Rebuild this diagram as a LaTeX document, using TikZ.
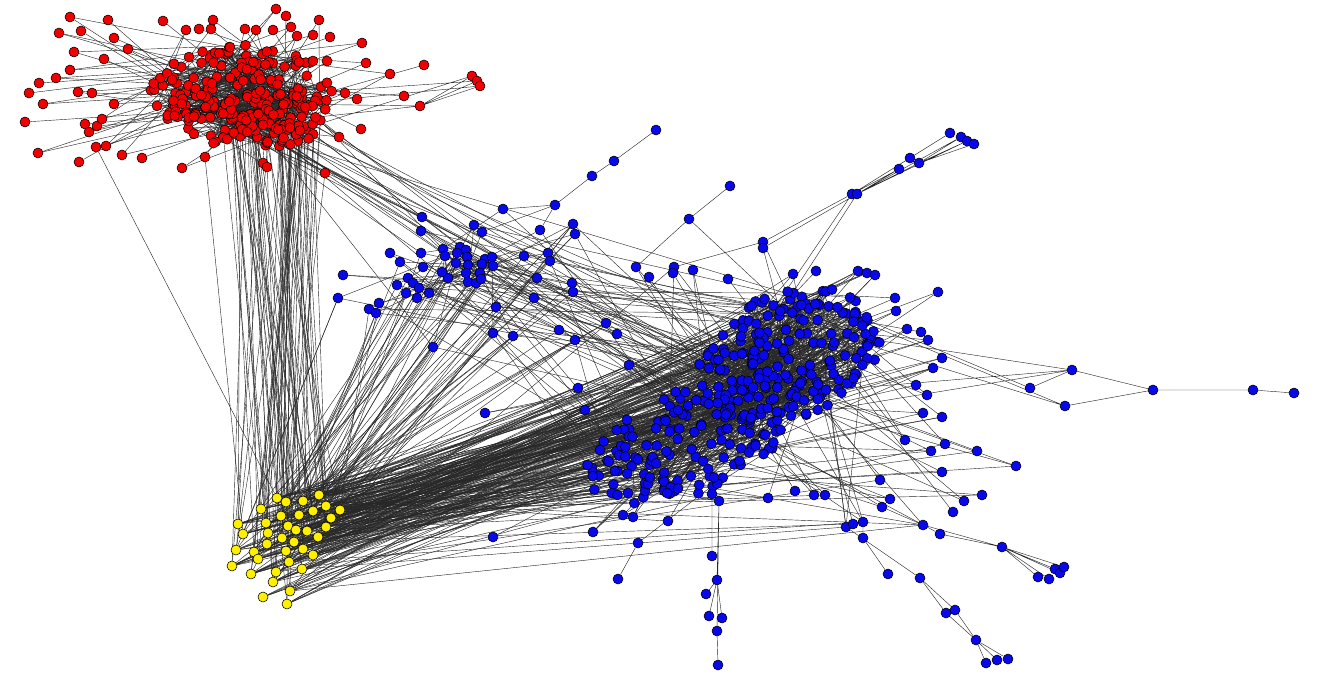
\documentclass[tikz,border=0pt]{standalone}
\pgfdeclarelayer{edges}
\pgfsetlayers{edges,main}
\definecolor{nred}{RGB}{240,0,0}
\definecolor{nblue}{RGB}{8,8,235}
\definecolor{nyel}{RGB}{255,240,0}
\tikzset{
  vtx/.style={circle,draw=black,line width=0.55pt,inner sep=0pt,minimum size=10pt},
  rv/.style={vtx,fill=nred},
  bv/.style={vtx,fill=nblue},
  yv/.style={vtx,fill=nyel},
  edge/.style={draw=black!85,line width=0.42pt}
}
\begin{document}
\begin{tikzpicture}[x=1pt,y=-1pt]
\useasboundingbox (0,0) rectangle (1325,680);
\pgfmathsetseed{2024}
% ---------------- red community ----------------
\foreach \i in {1,...,60}{%
  \pgfmathsetmacro\rr{sqrt(rnd)}%
  \pgfmathsetmacro\aa{360*rnd}%
  \node[rv] (r\i) at ({275+55*\rr*cos(\aa)},{118+28*\rr*sin(\aa)}) {};}
\foreach \i in {61,...,240}{%
  \pgfmathsetmacro\rr{sqrt(rnd)}%
  \pgfmathsetmacro\aa{360*rnd}%
  \node[rv] (r\i) at ({242+92*\rr*cos(\aa)},{95+52*\rr*sin(\aa)}) {};}
\foreach \x/\y [count=\n] in {70/17,108/20,59/33,81/31,74/52,104/59,70/70,39/83,56/78,29/93,
  78/92,92/93,43/104,25/122,38/153,85/124,89/132,97/126,102/119,96/147,106/146,79/162,
  122/155,142/158,182/168,205/157,276/9,286/16,319/20,273/30,291/27,330/37,362/43,424/65,
  390/74,404/96,366/63,357/99,345/93,361/129,339/137,325/173,263/163,267/167,114/104,
  114/38,128/49,163/21,186/30,199/29,211/29,213/20,245/29,256/30,297/36,313/35,313/61,327/61}{%
  \node[rv] (q\n) at (\x,\y) {};\xdef\nq{\n}}
\node[rv] (rh) at (420,106) {};
\node[rv] (rt1) at (472,76) {};
\node[rv] (rt2) at (477,81) {};
\node[rv] (rt3) at (480,86) {};
% ---------------- yellow community ----------------
\foreach \x/\y [count=\n] in {277/498,261/509,286/502,303/501,319/495,238/524,243/534,266/523,
  281/516,299/515,313/511,326/506,340/510,331/518,268/533,288/526,296/530,307/531,326/527,
  236/550,254/552,267/544,282/538,294/542,303/549,318/537,258/559,286/551,232/566,251/574,
  289/562,302/569,313/555,276/572,273/582,290/591,263/597,287/604}{%
  \node[yv] (y\n) at (\x,\y) {};\xdef\ny{\n}}
% ---------------- blue community ----------------
\foreach \i in {1,...,185}{%
  \pgfmathsetmacro\rr{sqrt(rnd)}%
  \pgfmathsetmacro\aa{360*rnd}%
  \pgfmathsetmacro\dx{92*\rr*cos(\aa)}%
  \node[bv] (b\i) at ({790+\dx},{355-0.22*\dx+66*\rr*sin(\aa)}) {};}
\foreach \i in {186,...,330}{%
  \pgfmathsetmacro\rr{sqrt(rnd)}%
  \pgfmathsetmacro\aa{360*rnd}%
  \pgfmathsetmacro\dx{105*\rr*cos(\aa)}%
  \node[bv] (b\i) at ({690+\dx},{442-0.28*\dx+56*\rr*sin(\aa)}) {};}
% secondary blue group (first 19 = tight core)
\foreach \x/\y [count=\n] in {443/249,460/247,466/250,457/253,445/256,467/257,456/263,468/265,
  485/259,492/257,493/266,482/264,480/273,466/273,468/282,476/283,481/279,448/278,442/272,
  422/217,421/231,474/225,482/232,503/209,540/230,573/224,575/234,524/256,548/253,550/261,
  390/253,421/253,400/262,423/267,343/275,338/298,397/285,408/278,413/283,419/288,406/293,
  417/298,429/293,379/303,369/309,376/313,537/278,534/298,572/283,573/292,496/307,559/330,
  575/340,606/323,617/334,493/333,513/336,433/347}{%
  \node[bv] (s\n) at (\x,\y) {};\xdef\ns{\n}}
% outlying blue vertices
\foreach \x/\y [count=\n] in {636/267,649/277,674/267,673/273,693/270,728/279,793/274,816/271,
  858/271,867/273,875/275,938/292,895/298,896/311,629/365,578/388,907/329,921/332,928/340,
  942/358,933/368,916/385,927/395,942/417,923/413,945/444,931/451,942/472,923/525,940/534,
  593/532,623/515,633/517,668/521,768/498,795/491,814/495,825/495,846/527,853/524,863/522,
  882/507,890/499,953/512,964/501,982/495,1016/466,977/451,485/413,493/537,628/493,585/410,
  905/440,880/480,600/450}{%
  \node[bv] (o\n) at (\x,\y) {};\xdef\no{\n}}
% chains
\node[bv] (c1) at (656,130) {};
\node[bv] (c2) at (614,161) {};
\node[bv] (c3) at (592,176) {};
\node[bv] (c4) at (555,205) {};
\node[bv] (t1) at (950,133) {};
\node[bv] (t2) at (961,137) {};
\node[bv] (t3) at (967,141) {};
\node[bv] (t4) at (974,144) {};
\node[bv] (t5) at (910,158) {};
\node[bv] (t6) at (919,163) {};
\node[bv] (t7) at (899,169) {};
\node[bv] (t8) at (852,194) {};
\node[bv] (t9) at (857,194) {};
\node[bv] (t10) at (763,242) {};
\node[bv] (t11) at (763,248) {};
\node[bv] (t12) at (730,186) {};
\node[bv] (t13) at (689,219) {};
\node[bv] (h1) at (1072,370) {};
\node[bv] (h2) at (1030,388) {};
\node[bv] (h3) at (1065,406) {};
\node[bv] (h4) at (1153,390) {};
\node[bv] (h5) at (1253,390) {};
\node[bv] (h6) at (1294,393) {};
\node[bv] (vA) at (712,494) {};
\node[bv] (v0) at (719,501) {};
\node[bv] (v1) at (712,556) {};
\node[bv] (v2) at (717,580) {};
\node[bv] (v3) at (706,594) {};
\node[bv] (v4) at (709,616) {};
\node[bv] (v5) at (722,618) {};
\node[bv] (v6) at (717,631) {};
\node[bv] (v7) at (718,665) {};
\node[bv] (l1) at (638,543) {};
\node[bv] (l2) at (618,579) {};
\node[bv] (k1) at (1002,547) {};
\node[bv] (k2) at (1038,577) {};
\node[bv] (k3) at (1049,579) {};
\node[bv] (k4) at (1055,569) {};
\node[bv] (k5) at (1060,573) {};
\node[bv] (k6) at (1064,567) {};
\node[bv] (k7) at (920,578) {};
\node[bv] (k8) at (946,613) {};
\node[bv] (k9) at (955,610) {};
\node[bv] (k10) at (976,640) {};
\node[bv] (k11) at (986,663) {};
\node[bv] (k12) at (997,660) {};
\node[bv] (k13) at (1008,659) {};
\node[bv] (k14) at (888,574) {};
\node[bv] (k15) at (863,538) {};
% ---------------- edges ----------------
\begin{pgfonlayer}{edges}
% red internal
\foreach \i in {1,...,240}{%
  \pgfmathtruncatemacro\j{mod(\i+random(1,239)-1,240)+1}%
  \pgfmathtruncatemacro\k{mod(\i+random(1,239)-1,240)+1}%
  \draw[edge] (r\i) -- (r\j) (r\i) -- (r\k);}
\foreach \i in {1,...,\nq}{%
  \pgfmathtruncatemacro\j{random(61,240)}%
  \pgfmathtruncatemacro\k{random(61,240)}%
  \draw[edge] (q\i) -- (r\j);
  \ifodd\i \draw[edge] (q\i) -- (r\k);\fi}
\draw[edge] (rt1) -- (rh) (rt2) -- (rh) (rt3) -- (rh) (rt1) -- (r5) (rt2) -- (r17)
  (rt3) -- (r33) (rh) -- (r40) (rh) -- (r9);
% red - yellow
\foreach \i in {1,...,70}{%
  \pgfmathtruncatemacro\j{random(1,60)}%
  \pgfmathtruncatemacro\k{random(1,\ny)}%
  \draw[edge] (r\j) -- (y\k);}
\draw[edge] (q20) -- (y1) (q26) -- (y7) (q42) -- (y3);
% yellow - blue
\foreach \i in {1,...,240}{%
  \pgfmathtruncatemacro\j{random(1,\ny)}%
  \pgfmathtruncatemacro\k{random(1,330)}%
  \draw[edge] (y\j) -- (b\k);}
\foreach \i in {1,...,60}{%
  \pgfmathtruncatemacro\j{random(1,\ny)}%
  \pgfmathtruncatemacro\k{random(1,\ns)}%
  \draw[edge] (y\j) -- (s\k);}
\foreach \i in {1,...,35}{%
  \pgfmathtruncatemacro\j{random(1,\ny)}%
  \pgfmathtruncatemacro\k{random(1,\no)}%
  \draw[edge] (y\j) -- (o\k);}
% red - blue
\foreach \i in {1,...,16}{%
  \pgfmathtruncatemacro\j{random(1,60)}%
  \pgfmathtruncatemacro\k{random(1,\ns)}%
  \draw[edge] (r\j) -- (s\k);}
\foreach \i in {1,...,10}{%
  \pgfmathtruncatemacro\j{random(1,60)}%
  \pgfmathtruncatemacro\k{random(1,330)}%
  \draw[edge] (r\j) -- (b\k);}
% blue internal
\foreach \i in {1,...,330}{%
  \pgfmathtruncatemacro\j{mod(\i+random(1,329)-1,330)+1}%
  \draw[edge] (b\i) -- (b\j);}
\foreach \i in {1,...,185}{%
  \pgfmathtruncatemacro\j{mod(\i+random(1,184)-1,185)+1}%
  \draw[edge] (b\i) -- (b\j);}
\foreach \i in {1,...,19}{%
  \pgfmathtruncatemacro\j{mod(\i+random(1,18)-1,19)+1}%
  \pgfmathtruncatemacro\k{mod(\i+random(1,18)-1,19)+1}%
  \draw[edge] (s\i) -- (s\j) (s\i) -- (s\k);}
\foreach \i in {1,...,\ns}{%
  \pgfmathtruncatemacro\j{random(1,19)}%
  \pgfmathtruncatemacro\k{random(1,330)}%
  \ifnum\i>19 \draw[edge] (s\i) -- (s\j);\fi
  \draw[edge] (s\i) -- (b\k);}
\foreach \i in {1,...,\no}{%
  \pgfmathtruncatemacro\j{random(1,330)}%
  \pgfmathtruncatemacro\k{random(1,330)}%
  \draw[edge] (o\i) -- (b\j);
  \ifodd\i \draw[edge] (o\i) -- (b\k);\fi}
% chains
\draw[edge] (c1) -- (c2) (c2) -- (c3) (c3) -- (c4) (c4) -- (s24) (c4) -- (s25) (c4) -- (s23);
\draw[edge] (t1) -- (t5) (t2) -- (t6) (t3) -- (t6) (t4) -- (t6) (t1) -- (t8) (t2) -- (t9)
  (t3) -- (t9) (t5) -- (t8) (t6) -- (t9) (t7) -- (t8) (t7) -- (t9) (t8) -- (t10) (t9) -- (t11)
  (t8) -- (b12) (t9) -- (b40) (t10) -- (b77) (t11) -- (b5) (t10) -- (o3) (t12) -- (t13)
  (t13) -- (o1) (t13) -- (b150);
\draw[edge] (h1) -- (h4) (h3) -- (h4) (h4) -- (h5) (h5) -- (h6) (h2) -- (h1) (h1) -- (b21)
  (h1) -- (b60) (h2) -- (b93) (h3) -- (b8) (h3) -- (b120) (h1) -- (b133);
\draw[edge] (vA) -- (v0) (vA) -- (v1) (v0) -- (v2) (v2) -- (v3) (v2) -- (v4) (v2) -- (v5)
  (v0) -- (v6) (v6) -- (v7) (v0) -- (b200) (vA) -- (b250) (v0) -- (b190);
\draw[edge] (l2) -- (l1) (l1) -- (b230) (o31) -- (o51) (o32) -- (b195) (o33) -- (b270);
\draw[edge] (k1) -- (k2) (k1) -- (k3) (k1) -- (k4) (k1) -- (k5) (k1) -- (k6) (k1) -- (o29)
  (o29) -- (o42) (k1) -- (o30) (o42) -- (b99) (k7) -- (k8) (k7) -- (k9) (k8) -- (k10)
  (k9) -- (k10) (k10) -- (k11) (k10) -- (k12) (k10) -- (k13) (k7) -- (o39) (o39) -- (b140)
  (k14) -- (k15) (k15) -- (o41) (o41) -- (b160);
\end{pgfonlayer}
\end{tikzpicture}
\end{document}
